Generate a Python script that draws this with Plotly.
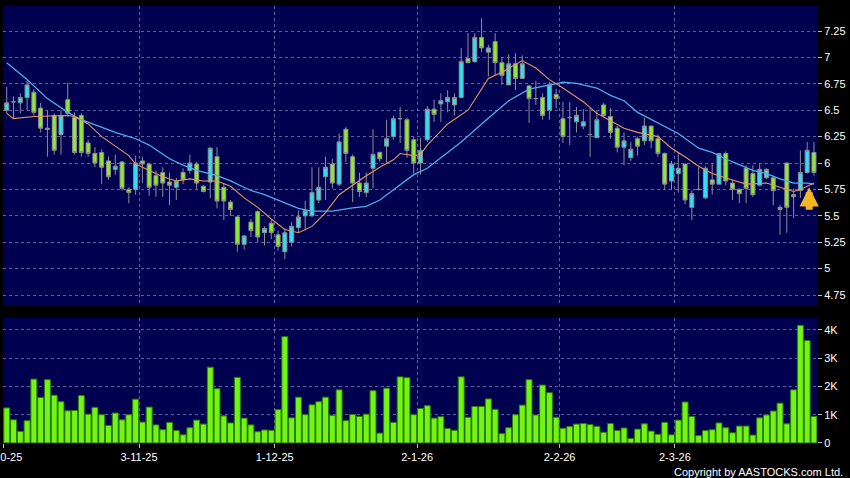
import plotly.graph_objects as go

# ---------------- data ----------------
tick_labels = ["2-10-25", "3-11-25", "1-12-25", "2-1-26", "2-2-26", "2-3-26"]
month_start_idx = [0, 20, 40, 61, 82, 99]

open_ = [6.50, 6.58, 6.57, 6.62, 6.67, 6.52, 6.33, 6.45, 6.27, 6.60,
         6.43, 6.45, 6.19, 6.09, 6.10, 6.02, 5.94, 6.01, 5.75, 5.75,
         6.02, 5.99, 5.88, 5.91, 5.82, 5.77, 5.91, 5.93, 5.99, 5.78,
         5.82, 6.06, 5.77, 5.63, 5.49, 5.23, 5.44, 5.54, 5.34, 5.43,
         5.32, 5.16, 5.25, 5.39, 5.50, 5.50, 5.65, 5.87, 5.99, 5.80,
         6.32, 6.06, 5.81, 5.72, 5.95, 6.10, 6.16, 6.25, 6.42, 6.41,
         6.22, 6.00, 6.22, 6.51, 6.56, 6.58, 6.55, 6.62, 6.99, 6.96,
         7.19, 7.05, 7.15, 6.95, 6.74, 6.94, 6.80, 6.73, 6.61, 6.62,
         6.50, 6.65, 6.42, 6.43, 6.39, 6.35, 6.27, 6.24, 6.55, 6.44,
         6.33, 6.15, 6.05, 6.23, 6.21, 6.35, 6.23, 6.09, 5.83, 5.90,
         5.99, 5.58, 5.75, 5.67, 5.84, 5.80, 6.09, 5.81, 5.75, 5.95,
         5.90, 5.79, 5.86, 5.86, 5.58, 6.00, 5.70, 5.74, 5.91, 6.10]
high = [6.72, 6.63, 6.66, 6.78, 6.70, 6.57, 6.50, 6.47, 6.50, 6.76,
        6.48, 6.47, 6.22, 6.15, 6.13, 6.06, 6.08, 6.02, 5.77, 6.07,
        6.06, 6.00, 5.93, 5.96, 5.91, 5.86, 5.95, 6.08, 6.01, 5.79,
        6.15, 6.15, 5.81, 5.65, 5.50, 5.32, 5.47, 5.55, 5.40, 5.46,
        5.36, 5.38, 5.44, 5.55, 5.64, 5.96, 5.96, 6.06, 6.04, 6.28,
        6.34, 6.08, 5.91, 5.91, 6.32, 6.11, 6.41, 6.45, 6.53, 6.43,
        6.25, 6.24, 6.54, 6.60, 6.66, 6.69, 6.66, 7.09, 7.23, 7.23,
        7.37, 7.12, 7.23, 7.00, 7.03, 7.04, 7.02, 6.74, 6.78, 6.66,
        6.77, 6.70, 6.58, 6.58, 6.53, 6.51, 6.52, 6.50, 6.57, 6.52,
        6.35, 6.29, 6.20, 6.25, 6.43, 6.35, 6.27, 6.10, 6.02, 6.10,
        5.99, 5.74, 5.96, 5.97, 6.00, 6.09, 6.11, 5.84, 5.76, 5.98,
        5.98, 6.00, 5.95, 5.88, 5.60, 6.00, 5.76, 6.12, 6.20, 6.20]
low = [6.47, 6.42, 6.47, 6.50, 6.45, 6.29, 6.06, 6.08, 6.08, 6.44,
       6.08, 6.06, 6.06, 5.96, 5.80, 5.84, 5.89, 5.74, 5.62, 5.70,
       5.81, 5.69, 5.68, 5.68, 5.60, 5.65, 5.80, 5.90, 5.75, 5.72,
       5.67, 5.57, 5.46, 5.50, 5.16, 5.18, 5.30, 5.25, 5.22, 5.28,
       5.17, 5.09, 5.21, 5.34, 5.36, 5.49, 5.62, 5.65, 5.76, 5.78,
       6.01, 5.63, 5.68, 5.68, 5.76, 6.01, 6.00, 6.22, 6.19, 6.05,
       5.90, 5.89, 6.20, 6.39, 6.39, 6.48, 6.45, 6.62, 6.95, 6.95,
       7.05, 6.82, 6.83, 6.74, 6.74, 6.69, 6.80, 6.38, 6.55, 6.41,
       6.41, 6.52, 6.19, 6.17, 6.29, 6.32, 6.06, 6.24, 6.43, 6.23,
       6.10, 5.98, 6.02, 6.07, 6.17, 6.14, 6.06, 5.75, 5.75, 5.72,
       5.61, 5.46, 5.74, 5.66, 5.70, 5.80, 5.79, 5.65, 5.62, 5.62,
       5.68, 5.78, 5.85, 5.60, 5.32, 5.34, 5.48, 5.67, 5.90, 5.88]
close = [6.57, 6.58, 6.62, 6.74, 6.48, 6.33, 6.32, 6.12, 6.45, 6.47,
         6.10, 6.10, 6.09, 6.00, 5.96, 5.87, 5.97, 5.76, 5.72, 6.00,
         5.99, 5.77, 5.79, 5.81, 5.79, 5.83, 5.84, 6.00, 5.81, 5.73,
         6.14, 5.64, 5.64, 5.56, 5.23, 5.31, 5.36, 5.30, 5.38, 5.34,
         5.21, 5.34, 5.40, 5.49, 5.55, 5.72, 5.77, 5.96, 5.81, 6.20,
         6.09, 5.81, 5.73, 5.81, 6.08, 6.04, 6.23, 6.42, 6.42, 6.12,
         6.00, 6.12, 6.51, 6.46, 6.59, 6.62, 6.62, 6.96, 6.95, 7.19,
         7.09, 7.09, 6.95, 6.83, 6.94, 6.80, 6.94, 6.61, 6.61, 6.45,
         6.74, 6.61, 6.25, 6.43, 6.45, 6.39, 6.27, 6.41, 6.45, 6.29,
         6.15, 6.21, 6.13, 6.16, 6.35, 6.21, 6.09, 5.80, 5.99, 5.95,
         5.65, 5.71, 5.75, 5.95, 5.80, 6.09, 5.83, 5.75, 5.71, 5.76,
         5.70, 5.94, 5.94, 5.74, 5.56, 5.58, 5.68, 5.91, 6.12, 5.91]
volume_k = [1.24, 0.82, 0.41, 0.79, 2.26, 1.61, 2.24, 1.69, 1.46, 1.14,
            1.15, 1.68, 1.02, 1.26, 1.00, 0.62, 1.06, 0.82, 1.00, 1.55,
            0.74, 1.27, 0.64, 0.47, 0.73, 0.44, 0.29, 0.54, 0.81, 0.67,
            2.68, 1.92, 0.96, 0.71, 2.32, 0.88, 0.64, 0.40, 0.46, 0.45,
            1.18, 3.76, 0.89, 1.62, 1.00, 1.35, 1.46, 1.62, 0.98, 1.88,
            0.79, 1.01, 0.94, 1.02, 1.85, 0.35, 1.94, 0.73, 2.34, 2.31,
            1.00, 1.22, 1.32, 0.88, 0.93, 0.51, 0.45, 2.34, 0.91, 1.29,
            1.29, 1.56, 1.19, 0.33, 0.54, 1.00, 1.34, 2.24, 0.99, 2.05,
            1.78, 0.91, 0.52, 0.58, 0.67, 0.69, 0.65, 0.59, 0.38, 0.69,
            0.44, 0.53, 0.16, 0.49, 0.68, 0.42, 0.31, 0.73, 0.29, 0.81,
            1.45, 0.94, 0.26, 0.44, 0.47, 0.71, 0.54, 0.36, 0.60, 0.60,
            0.28, 0.89, 0.99, 1.13, 1.41, 0.68, 1.88, 4.16, 3.62, 0.94]

ma_fast_idx = [0, 1, 4, 7, 9, 10, 12, 14, 16, 18, 19, 21, 23, 25, 27, 29, 31, 33,
               35, 37, 39, 41, 43, 45, 47, 49, 51, 53, 55, 57, 58, 60, 61, 62, 65,
               68, 71, 73, 76, 78, 80, 82, 85, 87, 89, 91, 93, 96, 98, 100, 102,
               104, 107, 109, 112, 114, 116, 117, 119]
ma_fast_val = [6.47, 6.42, 6.44, 6.45, 6.45, 6.44, 6.37, 6.25, 6.16, 6.07, 5.99,
               5.93, 5.87, 5.83, 5.85, 5.83, 5.83, 5.78, 5.67, 5.58, 5.47, 5.37,
               5.34, 5.40, 5.53, 5.70, 5.79, 5.88, 5.96, 6.03, 6.09, 6.07, 6.08,
               6.17, 6.37, 6.50, 6.80, 6.86, 6.97, 6.90, 6.79, 6.71, 6.58, 6.47,
               6.40, 6.33, 6.29, 6.25, 6.14, 6.06, 5.97, 5.90, 5.84, 5.80, 5.81,
               5.77, 5.73, 5.75, 5.81]
ma_slow_idx = [0, 3, 6, 9, 11, 14, 16, 19, 21, 24, 26, 28, 31, 33, 36, 38, 41, 43,
               45, 48, 51, 53, 55, 58, 60, 62, 65, 67, 70, 74, 77, 80, 82, 84, 87,
               89, 91, 93, 96, 99, 102, 104, 107, 110, 112, 114, 116, 118, 119]
ma_slow_val = [6.95, 6.79, 6.61, 6.48, 6.41, 6.34, 6.29, 6.23, 6.17, 6.04, 5.98,
               5.93, 5.88, 5.83, 5.74, 5.70, 5.62, 5.57, 5.545, 5.545, 5.575,
               5.59, 5.65, 5.79, 5.89, 5.95, 6.10, 6.20, 6.37, 6.59, 6.70, 6.74,
               6.765, 6.755, 6.71, 6.64, 6.59, 6.48, 6.38, 6.28, 6.14, 6.10, 6.01,
               5.93, 5.90, 5.85, 5.81, 5.81, 5.80]

price_ticks = [4.75, 5, 5.25, 5.5, 5.75, 6, 6.25, 6.5, 6.75, 7, 7.25]
price_tick_text = ["4.75", "5", "5.25", "5.5", "5.75", "6", "6.25", "6.5", "6.75", "7", "7.25"]
vol_ticks = [0, 1, 2, 3, 4]
vol_tick_text = ["0", "1K", "2K", "3K", "4K"]

# ---------------- figure ----------------
n = len(close)
idx = list(range(n))
tick_pos = [m - 0.5 for m in month_start_idx]

FONT = "Arial, Liberation Sans, sans-serif"
GRID = "rgba(135,135,195,0.7)"
OUTLINE = "#8e8e8e"

fig = go.Figure()

fig.add_trace(go.Candlestick(
    x=idx, open=open_, high=high, low=low, close=close,
    increasing=dict(fillcolor="#2ee0f0", line=dict(color=OUTLINE, width=1)),
    decreasing=dict(fillcolor="#8eea2e", line=dict(color=OUTLINE, width=1)),
    whiskerwidth=0, xaxis="x", yaxis="y", showlegend=False,
))
fig.add_trace(go.Scatter(x=ma_slow_idx, y=ma_slow_val, mode="lines",
                         line=dict(color="#4aaee8", width=1.3),
                         xaxis="x", yaxis="y", showlegend=False))
fig.add_trace(go.Scatter(x=ma_fast_idx, y=ma_fast_val, mode="lines",
                         line=dict(color="#e8935a", width=1.1),
                         xaxis="x", yaxis="y", showlegend=False))
fig.add_trace(go.Bar(x=idx, y=volume_k, marker=dict(color="#72f514",
                     line=dict(color="#2f7a06", width=1)),
                     xaxis="x2", yaxis="y2", showlegend=False))

xrange = [-0.55, n - 0.55]
common_x = dict(range=xrange, tickvals=tick_pos, showgrid=True, gridcolor=GRID,
                griddash="3px,3px", gridwidth=1, zeroline=False, showline=False,
                fixedrange=True)

fig.update_layout(
    width=850, height=478,
    margin=dict(l=3, r=33, t=6, b=35),
    paper_bgcolor="black", plot_bgcolor="#000050",
    font=dict(family=FONT, color="white", size=11),
    boxgap=0.16, bargap=0.12,
    xaxis=dict(common_x, domain=[0, 1], anchor="y", showticklabels=False,
               ticks="", rangeslider=dict(visible=False)),
    yaxis=dict(domain=[0.3135, 1], range=[4.646, 7.487], side="right",
               anchor="x", tickvals=price_ticks, ticktext=price_tick_text,
               ticks="outside", ticklen=4, tickcolor="#bbbbbb",
               showgrid=True, gridcolor=GRID, griddash="3px,3px",
               zeroline=False, showline=False, automargin=False,
               tickfont=dict(family=FONT, size=11, color="white")),
    xaxis2=dict(common_x, domain=[0, 1], anchor="y2", ticktext=tick_labels,
                ticks="outside", ticklen=4, tickcolor="#bbbbbb", automargin=False,
                ticklabeloverflow="allow",
                tickfont=dict(family=FONT, size=11, color="white")),
    yaxis2=dict(domain=[0, 0.286], range=[0, 4.42], side="right", anchor="x2",
                tickvals=vol_ticks, ticktext=vol_tick_text, ticks="outside",
                ticklen=4, tickcolor="#bbbbbb", showgrid=True, gridcolor=GRID,
                griddash="3px,3px", zeroline=False, showline=False,
                automargin=False,
                tickfont=dict(family=FONT, size=11, color="white")),
    annotations=[
        dict(x=ma_slow_idx[-1] - 0.7, y=5.77, xref="x", yref="y", text="",
             showarrow=True, ax=0, ay=24, arrowhead=2, arrowsize=0.55,
             arrowwidth=7, arrowcolor="#f4b626", standoff=0),
        dict(x=1.034, y=-0.066, xref="paper", yref="paper",
             text="Copyright by AASTOCKS.com Ltd.", showarrow=False,
             xanchor="right", yanchor="middle",
             font=dict(family=FONT, size=11, color="white")),
    ],
)

fig.write_html("out.html",
               config={"displayModeBar": False},
               post_script="document.body.style.margin='0';"
                           "document.body.style.background='black';"
                           "document.body.style.overflow='hidden';")
